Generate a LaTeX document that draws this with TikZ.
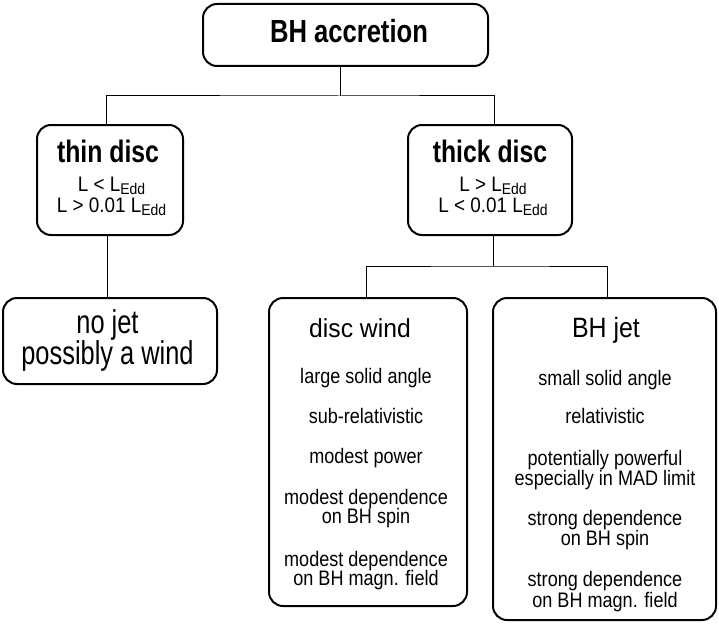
\documentclass[tikz,border=0pt]{standalone}
\usepackage{fontspec}
\setmainfont{Liberation Sans}
\newfontfamily\fA[FakeStretch=0.80]{Liberation Sans}
\newfontfamily\fB[FakeStretch=0.90]{Liberation Sans}
\newfontfamily\fC[FakeStretch=0.77]{Liberation Sans}
\newfontfamily\fD[FakeStretch=0.95]{Liberation Sans}
\newfontfamily\fE[FakeStretch=0.89]{Liberation Sans}
\newfontfamily\fF[FakeStretch=0.86]{Liberation Sans}
\newcommand{\Ledd}{L\raisebox{-3.5pt}{\fontsize{15.5}{15.5}\selectfont Edd}}
\tikzset{
  box/.style={draw, line width=2pt, rounded corners=14pt, inner sep=0pt},
  conn/.style={line width=1pt},
  ttl/.style={anchor=base, inner sep=0pt, font=\fA\bfseries\fontsize{31}{31}\selectfont},
  cond/.style={anchor=base, inner sep=0pt, font=\fB\fontsize{21}{21}\selectfont},
  nojettxt/.style={anchor=base, inner sep=0pt, font=\fC\fontsize{33}{33}\selectfont},
  windttl/.style={anchor=base, inner sep=0pt, font=\fD\fontsize{26}{26}\selectfont},
  jetttl/.style={anchor=base, inner sep=0pt, font=\fE\fontsize{28}{28}\selectfont},
  item/.style={anchor=base, inner sep=0pt, font=\fF\fontsize{21}{21}\selectfont}
}
\begin{document}
\begin{tikzpicture}[x=1pt,y=-1pt]
\useasboundingbox (0,0) rectangle (719,623);
% boxes
\node[box, minimum width=285pt, minimum height=62pt] (acc) at (345.5,35) {};
\node[box, minimum width=146pt, minimum height=110pt] (thin) at (110,180) {};
\node[box, minimum width=164pt, minimum height=110pt] (thick) at (490,180) {};
\node[box, minimum width=214pt, minimum height=86pt] (nojet) at (110,341) {};
\node[box, minimum width=198pt, minimum height=308pt] (wind) at (368,452) {};
\node[box, minimum width=223pt, minimum height=322pt] (jet) at (604.5,459) {};
% connectors
\coordinate (b1) at (340,96);
\coordinate (b2) at (493,266);
\draw[conn] ([xshift=-5.5pt]acc.south) -- (b1);
\draw[conn] ([xshift=-4pt]thin.north) |- (b1) -| ([xshift=4pt]thick.north);
\draw[conn] ([xshift=-3pt]thin.south) -- ([xshift=-3pt]thin.south |- nojet.north);
\draw[conn] ([xshift=3pt]thick.south) -- (b2);
\draw[conn] ([xshift=-2pt]wind.north) |- (b2) -| ([xshift=2.5pt]jet.north);
% texts
\node[ttl, font=\fA\bfseries\fontsize{32}{32}\selectfont] (tacc) at (349,43) {BH accretion};
\node[ttl] (tthin) at (108,162) {thin disc};
\node[cond] (c1) at (111.5,191) {L < \Ledd};
\node[cond] (c2) at (111.5,212) {L > 0.01 \Ledd};
\node[ttl] (tthick) at (490,162) {thick disc};
\node[cond] (c3) at (493,191) {L > \Ledd};
\node[cond] (c4) at (493,212) {L < 0.01 \Ledd};
\node[nojettxt] (n1) at (107.5,333) {no jet};
\node[nojettxt] (n2) at (107.5,364) {possibly a wind};
\node[windttl] (tw) at (360,337) {disc wind};
\node[item] (w1) at (366,383) {large solid angle};
\node[item] (w2) at (366,423) {sub-relativistic};
\node[item] (w3) at (366,463) {modest power};
\node[item] (w4) at (366,504) {modest dependence};
\node[item] (w5) at (366,523) {on BH spin};
\node[item] (w6) at (366,566) {modest dependence};
\node[item] (w7) at (366,585) {on BH magn. field};
\node[jetttl] (tj) at (606,337) {BH jet};
\node[item] (j1) at (605,385) {small solid angle};
\node[item] (j2) at (605,423) {relativistic};
\node[item] (j3) at (605,465) {potentially powerful};
\node[item] (j4) at (605,485) {especially in MAD limit};
\node[item] (j5) at (605,525) {strong dependence};
\node[item] (j6) at (605,545) {on BH spin};
\node[item] (j7) at (605,586) {strong dependence};
\node[item] (j8) at (605,607) {on BH magn. field};
\end{tikzpicture}
\end{document}
